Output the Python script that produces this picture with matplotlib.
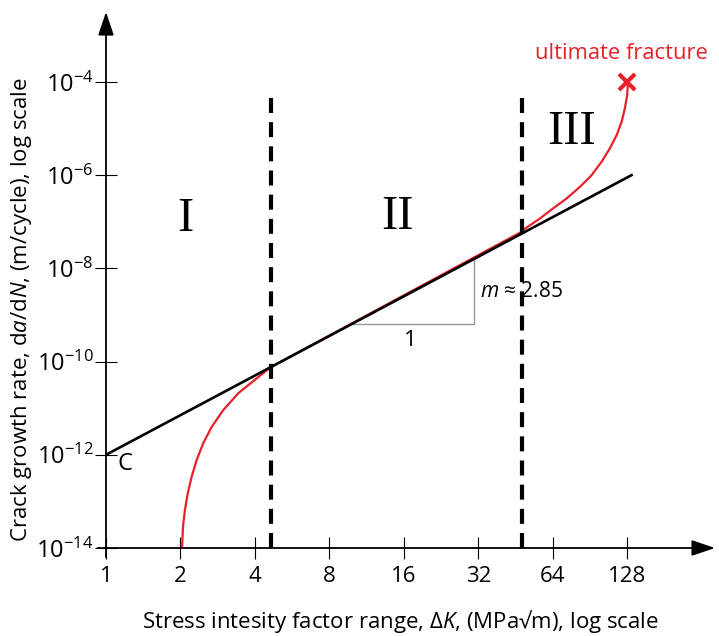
import numpy as np
import matplotlib
matplotlib.use("Agg")
import matplotlib.pyplot as plt

plt.rcParams['font.family'] = ['Open Sans', 'DejaVu Sans']
plt.rcParams['mathtext.fontset'] = 'custom'
plt.rcParams['mathtext.rm'] = 'Open Sans'
plt.rcParams['mathtext.it'] = 'Open Sans:italic'

# axis ticks
x_ticks = [1, 2, 4, 8, 16, 32, 64, 128]
y_ticks = [1e-14, 1e-12, 1e-10, 1e-8, 1e-6, 1e-4]

# Paris law line: C at dK=1, ends near dK=133
paris_x = [1, 133]
paris_y = [1e-12, 1e-6]

# region boundaries (dashed lines)
bounds_x = [4.65, 48]
bounds_top = 10**-4.17

# red curve, region I
red1_x = [2.03, 2.047, 2.085, 2.139, 2.219, 2.325, 2.472, 2.674, 2.978, 3.424, 4.064, 4.6]
red1_logy = [-14.0, -13.54, -13.18, -12.83, -12.47, -12.11, -11.75, -11.40, -11.04, -10.68, -10.36, -10.13]
# red curve, region II (follows the line)
red2_x = [4.6, 48.0]
red2_logy = [-10.13, -7.21]
# red curve, region III
red3_x = [48.0, 49.3, 56.7, 64.2, 72.7, 82.3, 91.7, 100.7, 108.8, 115.8, 121.3, 125.0, 127.7, 128.5]
red3_logy = [-7.21, -7.15, -6.93, -6.71, -6.50, -6.25, -6.00, -5.71, -5.42, -5.14, -4.85, -4.56, -4.28, -4.0]

fig = plt.figure(figsize=(7.19, 6.36), dpi=100)
ax = fig.add_axes([106/719, 88/636, 609/719, 536/636])
ax.set_xscale('log', base=2)
ax.set_yscale('log')
ax.set_xlim(1, 289)
ax.set_ylim(1e-14, 10**-2.5)

red = '#e8202a'
rx = red1_x + red2_x[1:] + red3_x[1:]
ry = red1_logy + red2_logy[1:] + red3_logy[1:]
ax.plot(rx, 10**np.array(ry), color=red, lw=1.6, zorder=3,
        solid_capstyle='round', solid_joinstyle='round')
ax.plot(paris_x, paris_y, color='k', lw=1.9, zorder=4)
ax.plot(128, 1e-4, marker='x', color=red, ms=12, mew=3, zorder=5)

for bx in bounds_x:
    ax.plot([bx, bx], [1e-14, bounds_top], color='k', lw=3,
            ls=(0, (3.6, 2.2)), zorder=6, clip_on=False)

# slope triangle
tri_x0, tri_x1 = 9.68, 30.7
ax.plot([tri_x0, tri_x1, tri_x1], [1e-12*tri_x0**2.85, 1e-12*tri_x0**2.85, 1e-12*tri_x1**2.85],
        color='#999999', lw=1, zorder=2)
ax.text(16.9, 10**-9.54, '1', fontsize=16, ha='center', va='center')
ax.text(32.4, 10**-8.5, r'$m$ ≈ 2.85', fontsize=15, ha='left', va='center')
ax.text(1.19, 10**-12.19, 'C', fontsize=17, ha='center', va='center')

# region labels
for lab, lx, ly in [('I', 2.1, -6.94), ('II', 15.1, -6.9), ('III', 76.4, -5.07)]:
    ax.text(lx, 10**ly, lab, fontsize=35, family='Liberation Serif', ha='center', va='center')

ax.text(120.5, 10**-3.38, 'ultimate fracture', color=red, fontsize=15.8, ha='center', va='center')

# axes with arrows
for s in ax.spines.values():
    s.set_visible(False)
arrow = dict(arrowstyle='-|>,head_length=0.65,head_width=0.22', color='k', lw=1.3,
             mutation_scale=22, shrinkA=0, shrinkB=0)
ax.annotate('', xy=(1, 0), xytext=(-0.014, 0), xycoords='axes fraction', arrowprops=arrow)
ax.annotate('', xy=(0, 1), xytext=(0, -0.017), xycoords='axes fraction', arrowprops=arrow)

ax.set_xticks(x_ticks)
ax.set_xticklabels([str(v) for v in x_ticks])
ax.set_yticks(y_ticks)
ax.set_yticklabels([r'$10^{%d}$' % int(np.log10(v)) for v in y_ticks])
ax.minorticks_off()
ax.tick_params(direction='inout', length=16, width=0.8)
ax.tick_params(axis='x', pad=5, labelsize=16)
ax.tick_params(axis='y', pad=1, labelsize=17)

ax.set_xlabel(r'Stress intesity factor range, $\Delta$$K$, (MPa√m), log scale', fontsize=16)
ax.set_ylabel(r'Crack growth rate, d$a$/d$N$, (m/cycle), log scale', fontsize=16)
ax.xaxis.set_label_coords(0.484, -0.112)
ax.yaxis.set_label_coords(-0.118, 0.444)

fig.savefig('out.png', dpi=100)
